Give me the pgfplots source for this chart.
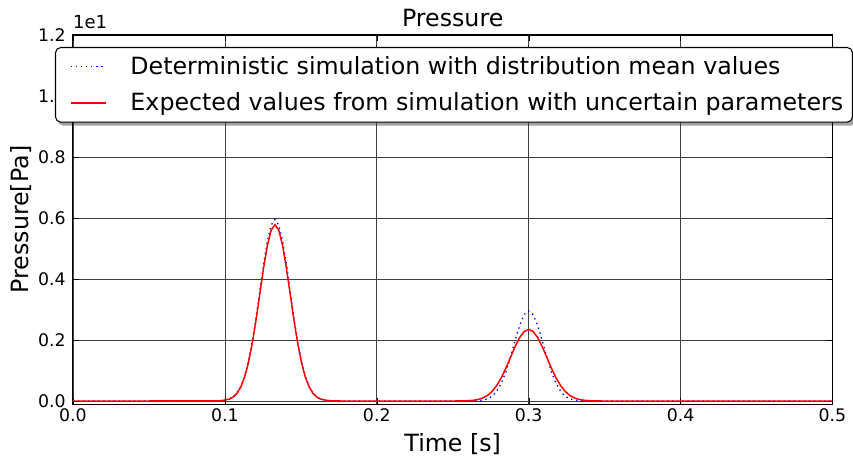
\documentclass[border=0pt]{standalone}
\usepackage{pgfplots}
\pgfplotsset{compat=1.18}
\usepackage{fontspec}
\setmainfont{DejaVu Sans}
\pgfdeclarelayer{background}
\pgfsetlayers{background,main}
\begin{document}
\begin{tikzpicture}
\begin{axis}[
  scale only axis,
  width=570pt, height=277pt,
  xmin=0, xmax=0.5, ymin=-0.01, ymax=1.2,
  xtick={0,0.1,0.2,0.3,0.4,0.5},
  ytick={0,0.2,0.4,0.6,0.8,1.0,1.2},
  /pgf/number format/assume math mode=true,
  ticklabel style={font=\fontsize{13}{15}\selectfont},
  xticklabel style={/pgf/number format/.cd, fixed, fixed zerofill, precision=1},
  yticklabel style={xshift=-2pt, /pgf/number format/.cd, fixed, fixed zerofill, precision=1},
  every axis x label/.style={at={(rel axis cs:0.5,0)}, anchor=north, inner sep=0pt, yshift=-21.5pt, font=\fontsize{17.8}{20}\selectfont},
  every axis y label/.style={at={(rel axis cs:0,0.5)}, xshift=-31pt, rotate=90, anchor=south, inner sep=0pt, font=\fontsize{17.8}{20}\selectfont},
  every axis title/.style={at={(rel axis cs:0.5,1)}, anchor=base, inner sep=0pt, yshift=6pt, font=\fontsize{17.8}{20}\selectfont},
  title={Pressure},
  xlabel={Time [s]},
  ylabel={Pressure[Pa]},
  grid=major,
  major grid style={black!75, line width=0.5pt},
  axis line style={black, line width=0.8pt},
  tick style={black},
  legend cell align=left,
  legend image code/.code={\draw[#1] (0cm,0cm) -- (0.92cm,0cm);},
  legend style={at={(-0.0237,0.9675)}, anchor=north west, name=legmat,
    draw=black, line width=0.8pt, rounded corners=4pt, fill=white,
    font=\fontsize{17.8}{21}\selectfont,
    inner xsep=11pt, inner ysep=3pt,
    nodes={inner xsep=0pt, inner ysep=4pt},
    column sep=18pt,
    row sep=4pt},
  clip=false,
]
\addplot[draw=blue, line width=1pt, dash pattern=on 1pt off 2.8pt] coordinates {
(0,0) (0.093,0.0002) (0.098,0.0013) (0.103,0.0066) (0.1055,0.0136) (0.108,0.0261) (0.1105,0.0474) (0.113,0.0805) (0.1155,0.1287) (0.118,0.1932) (0.1205,0.2724) (0.123,0.3609) (0.1255,0.4491) (0.128,0.5251) (0.1305,0.5767) (0.133,0.595)
(0.1355,0.5767) (0.138,0.5251) (0.1405,0.4491) (0.143,0.3609) (0.1455,0.2724) (0.148,0.1932) (0.1505,0.1287) (0.153,0.0805) (0.1555,0.0474) (0.158,0.0261) (0.1605,0.0136) (0.163,0.0066) (0.168,0.0013) (0.173,0.0002) (0.18,0)
(0.255,0) (0.26,0.0001) (0.265,0.0006) (0.27,0.0033) (0.2725,0.0067) (0.275,0.0130) (0.2775,0.0235) (0.28,0.0399) (0.2825,0.0638) (0.285,0.0958) (0.2875,0.1351) (0.29,0.1789) (0.2925,0.2227) (0.295,0.2603) (0.2975,0.2859) (0.3,0.295)
(0.3025,0.2859) (0.305,0.2603) (0.3075,0.2227) (0.31,0.1789) (0.3125,0.1351) (0.315,0.0958) (0.3175,0.0638) (0.32,0.0399) (0.3225,0.0235) (0.325,0.0130) (0.3275,0.0067) (0.33,0.0033) (0.335,0.0006) (0.34,0.0001) (0.345,0) (0.5,0)
};
\addlegendentry{Deterministic simulation with distribution mean values}
\addplot[draw=red, line width=1.1pt] coordinates {
(0,0) (0.093,0.0002) (0.098,0.0013) (0.103,0.0064) (0.1055,0.0132) (0.108,0.0254) (0.1105,0.0460) (0.113,0.0782) (0.1155,0.1250) (0.118,0.1877) (0.1205,0.2646) (0.123,0.3506) (0.1255,0.4363) (0.128,0.5101) (0.1305,0.5602) (0.133,0.578)
(0.1355,0.5602) (0.138,0.5101) (0.1405,0.4363) (0.143,0.3506) (0.1455,0.2646) (0.148,0.1877) (0.1505,0.1250) (0.153,0.0782) (0.1555,0.0460) (0.158,0.0254) (0.1605,0.0132) (0.163,0.0064) (0.168,0.0013) (0.173,0.0002) (0.18,0)
(0.245,0) (0.252,0.0001) (0.258,0.0005) (0.264,0.0026) (0.267,0.0054) (0.270,0.0103) (0.273,0.0187) (0.276,0.0318) (0.279,0.0508) (0.282,0.0763) (0.285,0.1076) (0.288,0.1425) (0.291,0.1774) (0.294,0.2074) (0.297,0.2278) (0.300,0.235)
(0.303,0.2278) (0.306,0.2074) (0.309,0.1774) (0.312,0.1425) (0.315,0.1076) (0.318,0.0763) (0.321,0.0508) (0.324,0.0318) (0.327,0.0187) (0.330,0.0103) (0.333,0.0054) (0.336,0.0026) (0.342,0.0005) (0.348,0.0001) (0.355,0) (0.5,0)
};
\addlegendentry{Expected values from simulation with uncertain parameters\hspace*{-4pt}}
\node[anchor=base west, inner sep=0pt, font=\fontsize{13.5}{16}\selectfont] at ([yshift=4.5pt]rel axis cs:0,1) {1e1};
\path ([xshift=-54.75pt,yshift=26.25pt]rel axis cs:0,1) ([xshift=15.25pt,yshift=-40.5pt]rel axis cs:1,0);
\end{axis}
\begin{pgfonlayer}{background}
\fill[overlay, black!60, opacity=0.6, rounded corners=4pt] ([xshift=2.2pt,yshift=-2.2pt]legmat.south west) rectangle ([xshift=2.2pt,yshift=-2.2pt]legmat.north east);
\end{pgfonlayer}
\end{tikzpicture}
\end{document}
